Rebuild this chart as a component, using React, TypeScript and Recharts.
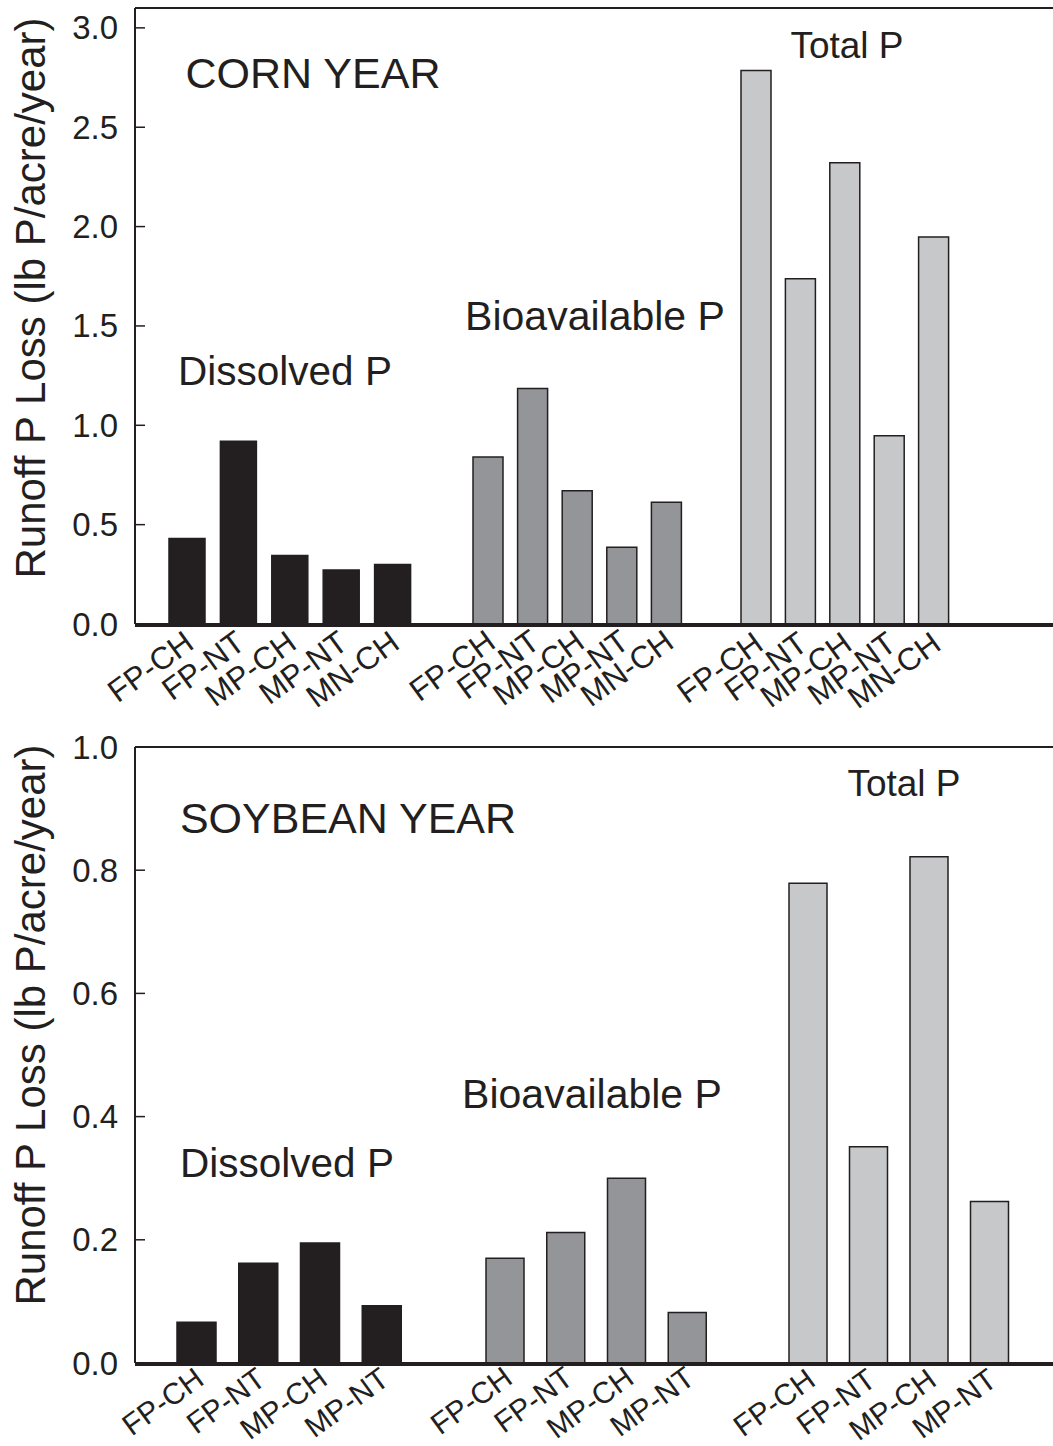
import { BarChart, Bar, XAxis, YAxis } from 'recharts';

const INK = '#231f20';
const FONT = '"Liberation Sans", Arial, Helvetica, sans-serif';

// corn year (top panel)
const cornTreatments = ['FP-CH', 'FP-NT', 'MP-CH', 'MP-NT', 'MN-CH'];
const cornDissolved = [0.43, 0.92, 0.345, 0.272, 0.3];
const cornBioavailable = [0.84, 1.185, 0.67, 0.386, 0.613];
const cornTotal = [2.785, 1.737, 2.321, 0.947, 1.947];
const cornTicks = [0, 0.5, 1.0, 1.5, 2.0, 2.5, 3.0];

// soybean year (bottom panel)
const soyTreatments = ['FP-CH', 'FP-NT', 'MP-CH', 'MP-NT'];
const soyDissolved = [0.066, 0.162, 0.195, 0.093];
const soyBioavailable = [0.17, 0.212, 0.3, 0.082];
const soyTotal = [0.779, 0.351, 0.822, 0.262];
const soyTicks = [0, 0.2, 0.4, 0.6, 0.8, 1.0];

const cornData = cornTreatments.map((t, i) => ({
  treatment: t,
  dissolved: cornDissolved[i],
  bioavailable: cornBioavailable[i],
  total: cornTotal[i],
}));

const soyData = soyTreatments.map((t, i) => ({
  treatment: t,
  dissolved: soyDissolved[i],
  bioavailable: soyBioavailable[i],
  total: soyTotal[i],
}));

const XTick = ({ x, y, payload, drop, size }: any) => (
  <g transform={`translate(${x + 9},${y + drop})`}>
    <text textAnchor="end" transform="rotate(-36)" fontSize={size} fill={INK} fontFamily={FONT}>
      {payload.value}
    </text>
  </g>
);

// inward tick + label on the left axis
const LeftTick = ({ x, y, payload }: any) => (
  <g>
    <line x1={x} x2={x + 10} y1={y} y2={y} stroke={INK} strokeWidth={1.5} />
    <text
      x={x - 17}
      y={y}
      textAnchor="end"
      dominantBaseline="central"
      fontSize={33}
      fill={INK}
      fontFamily={FONT}
    >
      {Number(payload.value).toFixed(1)}
    </text>
  </g>
);

// inward tick only on the right axis
const RightTick = ({ x, y }: any) => (
  <line x1={x - 10} x2={x} y1={y} y2={y} stroke={INK} strokeWidth={1.5} />
);

type Group = {
  key: string;
  fill: string;
  size: number;
  pad: { left: number; right: number };
};

type Note = { text: string; x: number; y: number; size: number };

function Panel({
  data,
  groups,
  domain,
  ticks,
  height,
  top,
  bottom,
  notes,
  yLabelY,
  tickDrop,
  tickSize,
}: {
  data: any[];
  groups: Group[];
  domain: [number, number];
  ticks: number[];
  height: number;
  top: number;
  bottom: number;
  notes: Note[];
  yLabelY: number;
  tickDrop: number;
  tickSize: number;
}) {
  const axisLine = { stroke: INK, strokeWidth: 2 };
  return (
    <BarChart width={1060} height={height} data={data} margin={{ top: top - 1, right: 1, bottom: bottom - 3, left: 0 }}>
      <XAxis
        xAxisId="frame"
        orientation="top"
        dataKey="treatment"
        height={1}
        tick={false}
        tickLine={false}
        axisLine={axisLine}
      />
      {groups.map((g) => (
        <XAxis
          key={g.key}
          xAxisId={g.key}
          dataKey="treatment"
          padding={g.pad}
          height={1}
          interval={0}
          tickLine={false}
          tickSize={0}
          tickMargin={0}
          axisLine={axisLine}
          tick={<XTick drop={tickDrop} size={tickSize} />}
        />
      ))}
      <YAxis
        yAxisId="left"
        domain={domain}
        ticks={ticks}
        width={135}
        tickSize={0}
        tickMargin={0}
        tickLine={false}
        axisLine={axisLine}
        tick={<LeftTick />}
      />
      <YAxis
        yAxisId="right"
        orientation="right"
        domain={domain}
        ticks={ticks}
        width={0}
        tickSize={0}
        tickMargin={0}
        tickLine={false}
        axisLine={axisLine}
        tick={<RightTick />}
      />
      {groups.map((g) => (
        <Bar
          key={g.key}
          xAxisId={g.key}
          yAxisId="left"
          dataKey={g.key}
          fill={g.fill}
          stroke={INK}
          strokeWidth={1.5}
          barSize={g.size}
          isAnimationActive={false}
        />
      ))}
      {notes.map((n) => (
        <text key={n.text} x={n.x} y={n.y} textAnchor="middle" fontSize={n.size} fill={INK} fontFamily={FONT}>
          {n.text}
        </text>
      ))}
      <text
        x={30}
        y={yLabelY}
        transform={`rotate(-90, 30, ${yLabelY})`}
        textAnchor="middle"
        dominantBaseline="central"
        fontSize={42}
        fill={INK}
        fontFamily={FONT}
      >
        Runoff P Loss (lb P/acre/year)
      </text>
    </BarChart>
  );
}

export default function App() {
  return (
    <div
      style={{
        position: 'absolute',
        left: 0,
        top: 0,
        width: 1053,
        height: 1446,
        overflow: 'hidden',
        background: '#fff',
      }}
    >
      <Panel
        data={cornData}
        domain={[0, 3.1]}
        ticks={cornTicks}
        height={720}
        top={8}
        bottom={96}
        yLabelY={298}
        tickDrop={22}
        tickSize={31.5}
        groups={[
          { key: 'dissolved', fill: '#231f20', size: 36, pad: { left: 26, right: 641 } },
          { key: 'bioavailable', fill: '#939598', size: 30, pad: { left: 331, right: 370 } },
          { key: 'total', fill: '#c7c8ca', size: 30, pad: { left: 599, right: 103 } },
        ]}
        notes={[
          { text: 'CORN YEAR', x: 313, y: 88, size: 43 },
          { text: 'Total P', x: 847, y: 58, size: 37 },
          { text: 'Bioavailable P', x: 595, y: 330, size: 41 },
          { text: 'Dissolved P', x: 285, y: 385, size: 40.5 },
        ]}
      />
      <Panel
        data={soyData}
        domain={[0, 1.0]}
        ticks={soyTicks}
        height={726}
        top={27}
        bottom={83}
        yLabelY={305}
        tickDrop={19}
        tickSize={30}
        groups={[
          { key: 'dissolved', fill: '#231f20', size: 39, pad: { left: 31, right: 646 } },
          { key: 'bioavailable', fill: '#939598', size: 38, pad: { left: 340, right: 341 } },
          { key: 'total', fill: '#c7c8ca', size: 38, pad: { left: 643, right: 39 } },
        ]}
        notes={[
          { text: 'SOYBEAN YEAR', x: 348, y: 113, size: 43 },
          { text: 'Total P', x: 904, y: 76, size: 37 },
          { text: 'Bioavailable P', x: 592, y: 388, size: 41 },
          { text: 'Dissolved P', x: 287, y: 457, size: 40.5 },
        ]}
      />
    </div>
  );
}
